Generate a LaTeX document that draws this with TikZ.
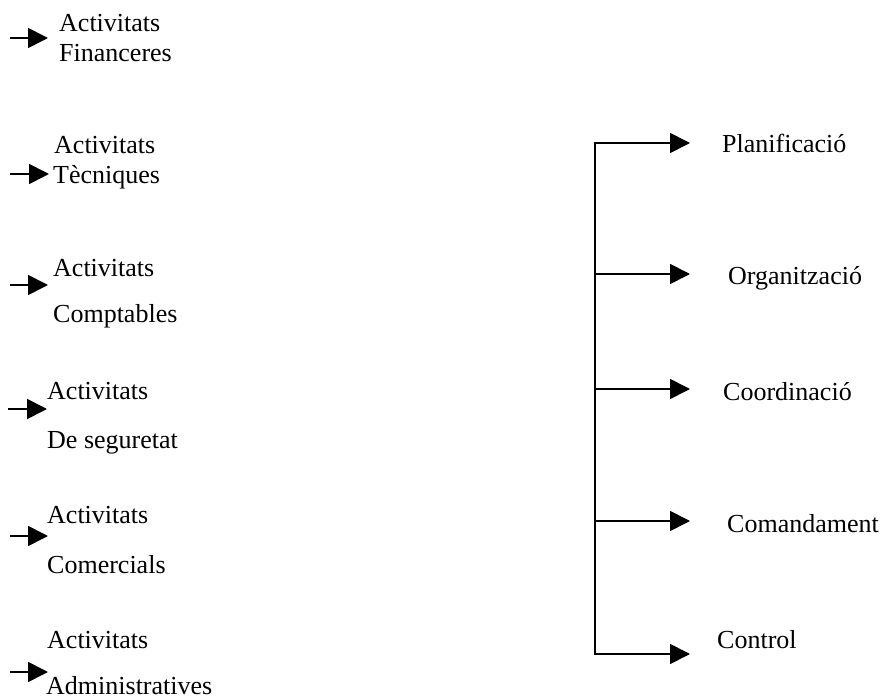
\documentclass[tikz,border=0pt]{standalone}
\usepackage{fontspec}
\setmainfont{Liberation Serif}
\usetikzlibrary{arrows.meta, positioning}

\begin{document}
\begin{tikzpicture}[
    x=1pt, y=-1pt,
    txt/.style={anchor=base west, inner sep=0pt, font=\fontsize{26}{30}\selectfont},
    arrow/.style={line width=1.7pt, -{Triangle[length=20pt, width=20pt]}},
    trunk/.style={line width=1.7pt, line cap=rect},
]
\useasboundingbox (0,0) rectangle (881,700);

% activitats (left column)
\node (fin_a) [txt] at (59,32) {Activitats};
\node (fin_b) [txt] at (59,62) {Financeres};
\node (tec_a) [txt] at (54,154) {Activitats};
\node (tec_b) [txt] at (53,184) {Tècniques};
\node (com_a) [txt] at (53,277) {Activitats};
\node (com_b) [txt] at (53,323) {Comptables};
\node (seg_a) [txt] at (47,400) {Activitats};
\node (seg_b) [txt] at (47,449) {De seguretat};
\node (cml_a) [txt] at (47,523) {Activitats};
\node (cml_b) [txt] at (47,573) {Comercials};
\node (adm_a) [txt] at (47,648) {Activitats};
\node (adm_b) [txt] at (46,694) {Administratives};

\coordinate (fin_s) at (10,38);   \coordinate (fin_t) at (48,38);
\coordinate (tec_s) at (10,174);  \coordinate (tec_t) at (49,174);
\coordinate (com_s) at (10,285);  \coordinate (com_t) at (48,285);
\coordinate (seg_s) at (8,409);   \coordinate (seg_t) at (47,409);
\coordinate (cml_s) at (10,536);  \coordinate (cml_t) at (48,536);
\coordinate (adm_s) at (10,672);  \coordinate (adm_t) at (48,672);

\draw [arrow] (fin_s) -- (fin_t);
\draw [arrow] (tec_s) -- (tec_t);
\draw [arrow] (com_s) -- (com_t);
\draw [arrow] (seg_s) -- (seg_t);
\draw [arrow] (cml_s) -- (cml_t);
\draw [arrow] (adm_s) -- (adm_t);

% funcions (right column)
\node (plan) [txt] at (722,153) {Planificació};
\node (org)  [txt] at (728,285) {Organització};
\node (coord) [txt] at (723,401) {Coordinació};
\node (coman) [txt] at (727,532) {Comandament};
\node (ctrl) [txt] at (717,648) {Control};

\coordinate (plan_s) at (595,143);  \coordinate (plan_t) at (690,143);
\coordinate (org_s) at (595,274);   \coordinate (org_t) at (690,274);
\coordinate (coord_s) at (595,389); \coordinate (coord_t) at (690,389);
\coordinate (coman_s) at (595,521); \coordinate (coman_t) at (690,521);
\coordinate (ctrl_s) at (595,654);  \coordinate (ctrl_t) at (690,654);

\draw [trunk] (plan_s) -- (ctrl_s);
\draw [arrow] (plan_s) -- (plan_t);
\draw [arrow] (org_s) -- (org_t);
\draw [arrow] (coord_s) -- (coord_t);
\draw [arrow] (coman_s) -- (coman_t);
\draw [arrow] (ctrl_s) -- (ctrl_t);

\end{tikzpicture}
\end{document}
